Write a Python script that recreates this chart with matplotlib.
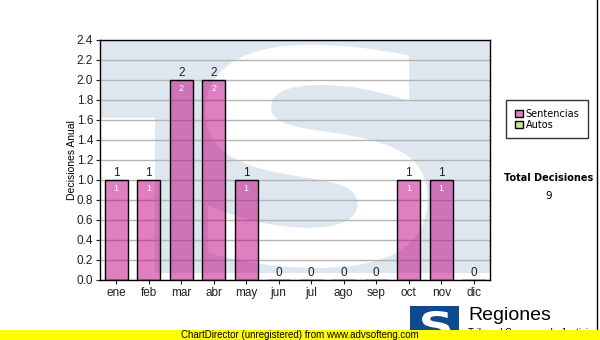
import matplotlib
matplotlib.use("Agg")
import matplotlib.pyplot as plt
import numpy as np
from matplotlib.patches import Rectangle, PathPatch, Patch
from matplotlib.textpath import TextPath
from matplotlib.font_manager import FontProperties
from matplotlib.transforms import Affine2D

meses = ["ene", "feb", "mar", "abr", "may", "jun", "jul", "ago", "sep", "oct", "nov", "dic"]
sentencias = [1, 1, 2, 2, 1, 0, 0, 0, 0, 1, 1, 0]
autos = [0, 0, 0, 0, 0, 0, 0, 0, 0, 0, 0, 0]
yticks = [0.0, 0.2, 0.4, 0.6, 0.8, 1.0, 1.2, 1.4, 1.6, 1.8, 2.0, 2.2, 2.4]
total = sum(sentencias) + sum(autos)

FONT = "Liberation Sans"
AZUL_CLARO = "#dee7f0"


def letra_s(x0, y0, x1, y1):
    # path of a bold "S" stretched into the box (x0, y0)-(x1, y1)
    tp = TextPath((0, 0), "S", size=1, prop=FontProperties(family="DejaVu Sans", weight="bold"))
    ext = tp.get_extents()
    tr = (Affine2D().translate(-ext.x0, -ext.y0)
          .scale((x1 - x0) / ext.width, (y1 - y0) / ext.height)
          .translate(x0, y0))
    return tr.transform_path(tp)


fig = plt.figure(figsize=(6, 3.4), dpi=100)
ax = fig.add_axes([100 / 600, 60 / 340, 390 / 600, 240 / 340])

# marca de agua
ax.add_patch(Rectangle((0, 0.675), 1, 0.325, transform=ax.transAxes, fc=AZUL_CLARO, ec="none", zorder=0.2))
ax.add_patch(Rectangle((0.141, 0.03), 0.859, 0.97, transform=ax.transAxes, fc=AZUL_CLARO, ec="none", zorder=0.2))
ax.add_patch(PathPatch(letra_s(0.27, 0.05, 0.84, 0.98), transform=ax.transAxes, fc="white", ec="none", zorder=0.3))

x = np.arange(len(meses))
barras = ax.bar(x, sentencias, width=0.7, color="#c00082", alpha=0.5, edgecolor="none", zorder=1)
ax.bar(x, sentencias, width=0.7, color="none", edgecolor="black", linewidth=1.0, zorder=2)

for xi, v in zip(x, sentencias):
    ax.annotate(str(v), (xi, v), xytext=(0, 1), textcoords="offset points",
                ha="center", va="bottom", fontsize=8.5, family=FONT, color="#202020", zorder=3)
    if v > 0:
        ax.annotate(str(v), (xi, v), xytext=(0, -3), textcoords="offset points",
                    ha="center", va="top", fontsize=6.5, family=FONT, color="white", zorder=3)

ax.set_xlim(-0.5, len(meses) - 0.5)
ax.set_ylim(0, 2.4)
ax.set_yticks(yticks)
ax.set_yticklabels([f"{t:.1f}" for t in yticks], family=FONT, fontsize=8.5)
ax.set_xticks(x)
ax.set_xticklabels(meses, family=FONT, fontsize=8.5)
ax.tick_params(length=3, width=0.8, pad=2, colors="#202020")
ax.set_axisbelow(True)
ax.yaxis.grid(True, color="#b4b4b4", linewidth=1.0)
for s in ax.spines.values():
    s.set_linewidth(1.0)
    s.set_color("black")
ax.set_ylabel("Decisiones Anual", family=FONT, fontsize=7.5, labelpad=0)

# leyenda
leyenda = [
    Patch(facecolor="#e07fc0", edgecolor="black", label="Sentencias"),
    Patch(facecolor="#cce89a", edgecolor="black", label="Autos"),
]
fig.legend(handles=leyenda, loc="upper left", bbox_to_anchor=(506 / 600, 1 - 100 / 340),
           fontsize=7, frameon=True, fancybox=False, edgecolor="black",
           handlelength=0.8, handleheight=0.8, handletextpad=0.3, labelspacing=0.1,
           borderpad=0.9, borderaxespad=0)

fig.text(549 / 600, 1 - 178 / 340, "Total Decisiones", ha="center", va="center", fontsize=7, weight="bold")
fig.text(549 / 600, 1 - 196 / 340, str(total), ha="center", va="center", fontsize=7.5)

# borde derecho
fig.add_artist(plt.Line2D([597 / 600, 597 / 600], [10 / 340, 1], color="black", linewidth=1))

# logo
fig.add_artist(Rectangle((410 / 600, 0), 49 / 600, 34 / 340, transform=fig.transFigure, fc="#0d4b8e", ec="none"))
fig.add_artist(PathPatch(letra_s(422 / 600, 1 / 340, 450 / 600, 29 / 340), transform=fig.transFigure,
                         fc="white", ec="none"))
fig.text(468 / 600, 1 - 316 / 340, "Regiones", ha="left", va="center", family=FONT, fontsize=14)
fig.text(468 / 600, 1 - 333 / 340, "Tribunal Supremo de Justicia", ha="left", va="center",
         family=FONT, fontsize=7)

# banda amarilla
fig.add_artist(Rectangle((0, 0), 1, 10 / 340, transform=fig.transFigure, fc="#ffff00", ec="none", zorder=5))
fig.text(300 / 600, 5 / 340, "ChartDirector (unregistered) from www.advsofteng.com", ha="center", va="center",
         family=FONT, fontsize=7, zorder=6)

fig.savefig("out.png", dpi=100)
plt.close(fig)
